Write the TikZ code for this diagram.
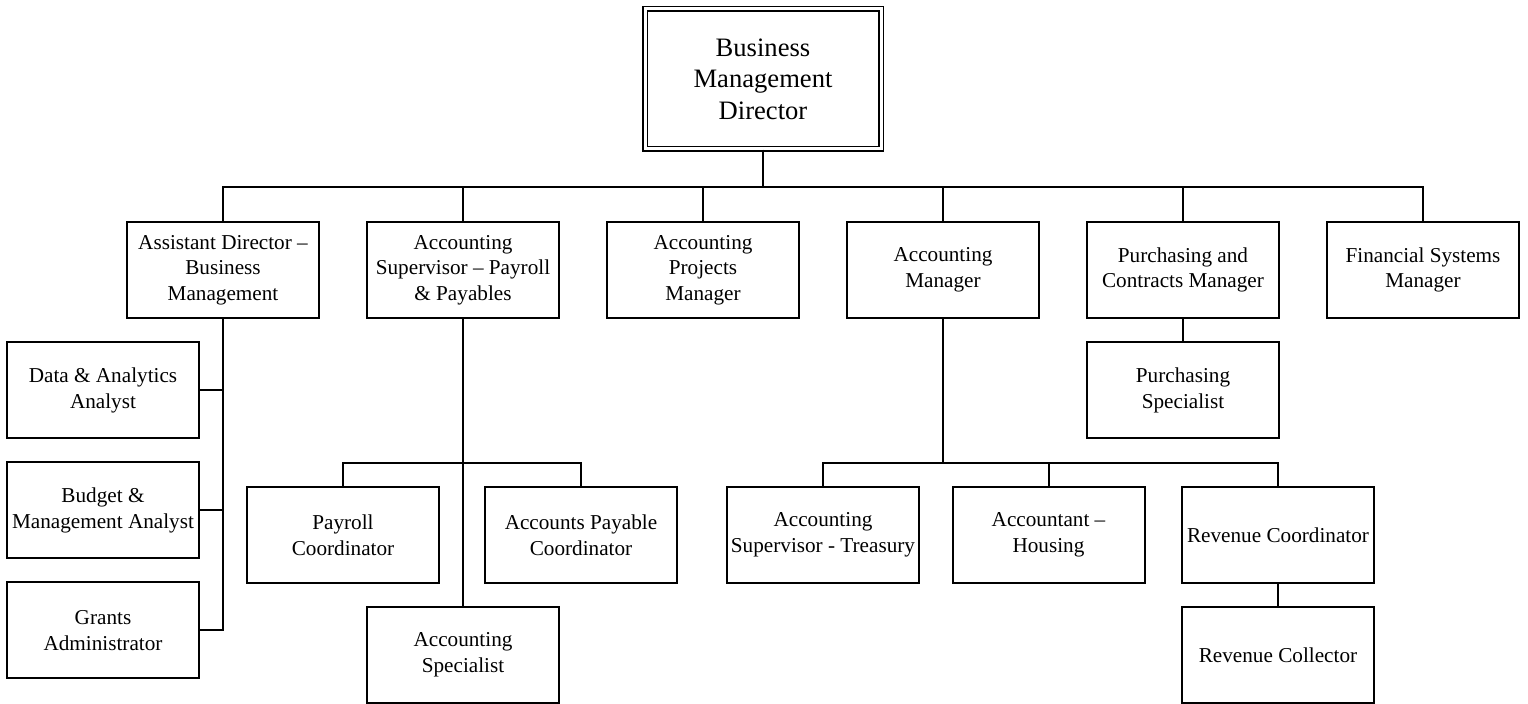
\documentclass[tikz,border=0pt]{standalone}
\usepackage{fontspec}
\setmainfont{Liberation Serif}
\begin{document}
\begin{tikzpicture}[
                x=0.5pt, y=-0.5pt,
                line width=1pt,
                post/.style={draw, rectangle, align=center, inner sep=2pt,
                    minimum width=96pt, minimum height=48pt,
                    font=\fontsize{10.6pt}{12.85pt}\selectfont},
                head/.style={draw, rectangle, align=center, double, line width=0.6pt,
                    double distance=1.5pt, minimum width=118pt, minimum height=70pt,
                    font=\fontsize{13.3pt}{15.8pt}\selectfont},
            ]
            \useasboundingbox (0,0) rectangle (1528,704);
            \node[head] (dir) at (763,79) {Business\\Management\\Director};
            \node[post] (asst) at (223,270) {Assistant Director --\\Business\\Management};
            \node[post] (payl) at (463,270) {Accounting\\Supervisor -- Payroll\\\& Payables};
            \node[post] (proj) at (703,270) {Accounting\\Projects\\Manager};
            \node[post] (acct) at (943,270) {Accounting\\Manager};
            \node[post] (purch) at (1183,270) {Purchasing and\\Contracts Manager};
            \node[post] (fin) at (1423,270) {Financial Systems\\Manager};
            \node[post] (data) at (103,390.5) {Data \& Analytics\\Analyst};
            \node[post] (budget) at (103,510.5) {Budget \&\\Management Analyst};
            \node[post] (grants) at (103,630.5) {Grants\\Administrator};
            \node[post] (payco) at (343,535) {Payroll\\Coordinator};
            \node[post] (apco) at (581,535) {Accounts Payable\\Coordinator};
            \node[post] (acspec) at (463,655) {Accounting\\Specialist};
            \node[post] (pspec) at (1183,390.5) {Purchasing\\Specialist};
            \node[post] (treas) at (823,535) {Accounting\\Supervisor - Treasury};
            \node[post] (house) at (1048.5,535) {Accountant --\\Housing};
            \node[post] (revco) at (1278,535) {Revenue Coordinator};
            \node[post] (revcol) at (1278,655) {Revenue Collector};
            \coordinate (bus) at (763,187);
            \coordinate (pbus) at (463,462.7);
            \coordinate (mbus) at (943,462.7);
            % top level
            \draw (dir) -- (bus);
            \draw (asst.north) |- (bus) -| (fin.north);
            \foreach \n in {payl, proj, acct, purch}
                \draw (\n.north) -- (\n.north |- bus);
            % assistant director
            \draw (asst.south) -- (asst.south |- grants.east) -- (grants.east);
            \draw (data.east) -- (data.east -| asst.south);
            \draw (budget.east) -- (budget.east -| asst.south);
            % payroll and payables
            \draw (payl.south) -- (acspec.north);
            \draw (payco.north) |- (pbus) -| (apco.north);
            % accounting manager
            \draw (acct.south) -- (mbus);
            \draw (treas.north) |- (mbus) -| (revco.north);
            \draw (house.north) -- (house.north |- mbus);
            \draw (revco) -- (revcol);
            \draw (purch) -- (pspec);
            \end{tikzpicture}
\end{document}
